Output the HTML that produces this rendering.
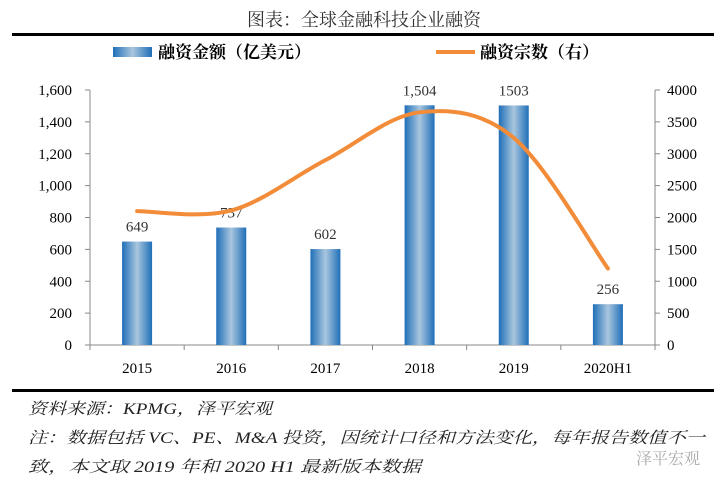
<!DOCTYPE html>
<html><head><meta charset="utf-8">
<style>
body{margin:0;background:#fff;}
svg text{font-family:"Liberation Serif","Noto Serif CJK SC",serif;}
.cjk{font-family:"Liberation Serif","Noto Serif CJK SC","Noto Sans CJK SC",serif;}
</style></head>
<body>
<svg id="chart" width="728" height="489" viewBox="0 0 728 489" xmlns="http://www.w3.org/2000/svg">
<defs>
<linearGradient id="bg" x1="0" x2="1" y1="0" y2="0">
<stop offset="0" stop-color="#1f6fb8"/><stop offset="0.5" stop-color="#a9c6de"/><stop offset="1" stop-color="#1f6fb8"/>
</linearGradient>
</defs>
<text x="364" y="26" text-anchor="middle" font-size="18" fill="#333" class="cjk">图表：全球金融科技企业融资</text>
<rect x="12" y="33" width="702" height="3" fill="#000"/>
<g>
<rect x="113" y="47" width="39" height="10" fill="url(#bg)"/>
<text x="158" y="58" font-size="17" font-weight="bold" class="cjk">融资金额（亿美元）</text>
<line x1="436" y1="52" x2="475" y2="52" stroke="#f28c38" stroke-width="4"/>
<text x="480" y="58" font-size="17" font-weight="bold" class="cjk">融资宗数（右）</text>
</g>
<g id="plot"></g>
<rect x="12" y="389" width="702" height="3" fill="#000"/>
<text x="28" y="414" font-size="16" font-style="italic" fill="#222" class="cjk" textLength="244" lengthAdjust="spacingAndGlyphs">资料来源：KPMG，泽平宏观</text>
<text x="28" y="443" font-size="16" font-style="italic" fill="#222" class="cjk" textLength="677" lengthAdjust="spacingAndGlyphs">注：数据包括 VC、PE、M&amp;A 投资，因统计口径和方法变化，每年报告数值不一</text>
<text x="28" y="472" font-size="16" font-style="italic" fill="#222" class="cjk" textLength="393" lengthAdjust="spacingAndGlyphs">致，本文取 2019 年和 2020 H1 最新版本数据</text>
<text x="636" y="464" font-size="16" fill="#aaa" class="cjk">泽平宏观</text>
</svg>
<script>
const categories=["2015","2016","2017","2018","2019","2020H1"];
const amounts=[649,737,602,1504,1503,256];
const amountLabels=["649","737","602","1,504","1503","256"];
const counts=[2100,2110,2900,3650,3250,1200];
const leftTicks=[0,200,400,600,800,1000,1200,1400,1600];
const leftTickLabels=["0","200","400","600","800","1,000","1,200","1,400","1,600"];
const rightTicks=[0,500,1000,1500,2000,2500,3000,3500,4000];

const NS="http://www.w3.org/2000/svg";
const g=document.getElementById('plot');
const X0=90,X1=655,Y0=345,YT=90;
const bw=(X1-X0)/categories.length;
const xC=i=>X0+bw*(i+0.5);
const yL=v=>Y0-(Y0-YT)*v/1600;
const yR=v=>Y0-(Y0-YT)*v/4000;
function mk(t,a){const e=document.createElementNS(NS,t);for(const k in a)e.setAttribute(k,a[k]);g.appendChild(e);return e;}

let e=mk('line',{x1:X0,y1:YT,x2:X0,y2:Y0,stroke:'#888'});


e=mk('line',{x1:X1,y1:YT,x2:X1,y2:Y0,stroke:'#888'});


e=mk('line',{x1:X0,y1:Y0,x2:X1,y2:Y0,stroke:'#888'});


leftTicks.forEach((v,i)=>{
  mk('line',{x1:X0-5,y1:yL(v),x2:X0,y2:yL(v),stroke:'#888'});
  const t=mk('text',{x:X0-18,y:yL(v)+5,'text-anchor':'end','font-size':15});
  t.textContent=leftTickLabels[i];
  
  
});
rightTicks.forEach(v=>{
  mk('line',{x1:X1,y1:yR(v),x2:X1+5,y2:yR(v),stroke:'#888'});
  const t=mk('text',{x:X1+12,y:yR(v)+5,'font-size':15});
  t.textContent=String(v);
  
  
});
for(let i=0;i<=categories.length;i++){mk('line',{x1:X0+bw*i,y1:Y0,x2:X0+bw*i,y2:Y0+5,stroke:'#888'});}
categories.forEach((c,i)=>{
  const t=mk('text',{x:xC(i),y:Y0+28,'text-anchor':'middle','font-size':15});
  t.textContent=c;
  
  
  const b=mk('rect',{x:xC(i)-15,y:yL(amounts[i]),width:30,height:Y0-yL(amounts[i]),fill:'url(#bg)'});
  
  
  const l=mk('text',{x:xC(i),y:yL(amounts[i])-10,'text-anchor':'middle','font-size':15,fill:'#333'});
  l.textContent=amountLabels[i];
  
  
});
const pts=counts.map((v,i)=>[xC(i),yR(v)]);
let d='M'+pts[0][0]+','+pts[0][1];
for(let i=0;i<pts.length-1;i++){
  const p0=pts[Math.max(0,i-1)],p1=pts[i],p2=pts[i+1],p3=pts[Math.min(pts.length-1,i+2)];
  const c1=[p1[0]+(p2[0]-p0[0])/6,p1[1]+(p2[1]-p0[1])/6];
  const c2=[p2[0]-(p3[0]-p1[0])/6,p2[1]-(p3[1]-p1[1])/6];
  d+=' C'+c1+' '+c2+' '+p2;
}
const ln=mk('path',{d:d,fill:'none',stroke:'#f28c38','stroke-width':4,'stroke-linecap':'round'});


</script>
</body></html>
